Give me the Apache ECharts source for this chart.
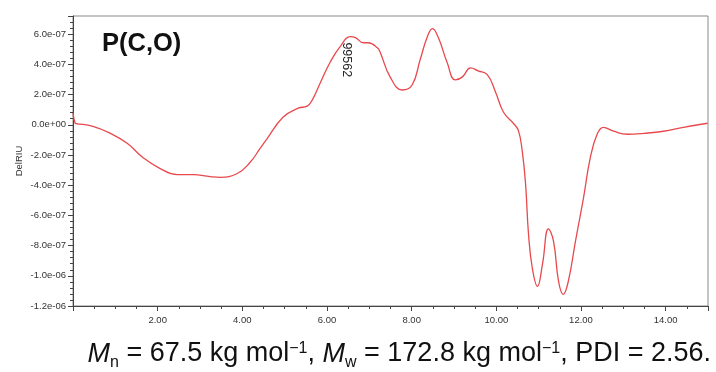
<!DOCTYPE html>
<html><head><meta charset="utf-8">
<script src="https://cdn.jsdelivr.net/npm/echarts@6/dist/echarts.min.js"></script>
<style>html,body{margin:0;padding:0;background:#fff}#c{width:716px;height:372px}</style>
</head><body><div id="c"></div>
<script>
// elution time (min)
const elutionTime = [0.0,0.05,0.07,0.47,0.87,1.28,1.65,2.06,2.46,2.84,3.24,3.48,3.88,4.18,4.42,4.59,4.96,5.32,5.53,5.65,5.84,6.08,6.31,6.55,6.67,6.86,6.97,7.19,7.26,7.49,7.78,8.01,8.2,8.37,8.49,8.63,8.84,9.03,9.2,9.39,9.57,9.79,9.98,10.17,10.4,10.52,10.61,10.69,10.76,10.85,10.97,11.09,11.23,11.35,11.47,11.58,11.7,11.87,12.06,12.22,12.39,12.53,12.77,13.1,13.48,13.95,14.42,14.99];
// DelRIU in units of 1e-7
const delRIU = [0.77,0.1,0.08,-0.1,-0.55,-1.23,-2.17,-2.9,-3.3,-3.3,-3.43,-3.48,-3.23,-2.5,-1.57,-0.9,0.5,1.1,1.23,1.63,2.77,4.17,5.17,5.83,5.77,5.43,5.43,5.1,4.77,3.17,2.3,2.63,4.3,5.83,6.37,5.77,4.1,2.97,3.17,3.77,3.57,3.3,2.17,0.83,0.1,-0.37,-1.7,-3.9,-7.23,-9.5,-10.7,-9.23,-6.9,-7.7,-10.37,-11.23,-10.37,-7.7,-4.83,-2.17,-0.57,-0.17,-0.43,-0.63,-0.57,-0.43,-0.17,0.1];
const peakLabel = ['99562'];
const peakPos = [6.45, 4.3];
const titleText = 'P(C,O)';
const yAxisName = 'DelRIU';

function sci(v){
  if (Math.abs(v) < 1e-9) return '0.0e+00';
  const val = v * 1e-7;
  let e = Math.floor(Math.log10(Math.abs(val)));
  let m = val / Math.pow(10, e);
  if (Math.abs(m) >= 9.95) { m /= 10; e += 1; }
  return m.toFixed(1) + 'e' + (e < 0 ? '-' : '+') + String(Math.abs(e)).padStart(2, '0');
}

const FONT = '"Liberation Sans", Arial, sans-serif';
const chart = echarts.init(document.getElementById('c'), null, {renderer:'canvas'});
chart.setOption({
  animation: false,
  backgroundColor: '#fff',
  grid: {left: 73, right: 8, top: 16, bottom: 66, show: true, borderColor: '#8a8a8a', borderWidth: 1},
  xAxis: {
    type: 'value', min: 0, max: 15, interval: 2,
    axisLine: {show: true, onZero: false, lineStyle: {color: '#444', width: 1}},
    axisTick: {show: true, length: 5, lineStyle: {color: '#444'}},
    minorTick: {show: true, splitNumber: 4, length: 3, lineStyle: {color: '#444'}},
    splitLine: {show: false},
    axisLabel: {showMaxLabel: false, color: '#333', fontSize: 9.5, fontFamily: FONT, margin: 9,
      formatter: v => v === 0 ? '' : v.toFixed(2)}
  },
  yAxis: {
    type: 'value', min: -12, max: 7.2, interval: 2,
    axisLine: {show: true, onZero: false, lineStyle: {color: '#444', width: 1}},
    axisTick: {show: true, length: 5, lineStyle: {color: '#444'}},
    minorTick: {show: true, splitNumber: 5, length: 3, lineStyle: {color: '#444'}},
    splitLine: {show: false},
    axisLabel: {showMaxLabel: false, color: '#333', fontSize: 9.5, fontFamily: FONT, margin: 7,
      formatter: sci}
  },
  series: [{
    type: 'line',
    data: elutionTime.map((x, i) => [x, delRIU[i]]),
    showSymbol: false, smooth: 0.45,
    lineStyle: {color: '#e8494d', width: 1.3},
    markPoint: {
      symbol: 'circle', symbolSize: 1, itemStyle: {color: 'rgba(0,0,0,0)'},
      label: {show: true, position: 'inside', rotate: -90, color: '#222', fontSize: 12.5, fontFamily: FONT,
        formatter: () => peakLabel[0]},
      data: [{coord: peakPos}]
    }
  }],
  graphic: [
    {type: 'text', x: 102, y: 44, style: {text: titleText, font: 'bold 25.5px ' + FONT, fill: '#111', textVerticalAlign: 'middle'}},
    {type: 'text', x: 19, y: 161, rotation: Math.PI / 2,
      style: {text: yAxisName, font: '9.5px ' + FONT, fill: '#333', textAlign: 'center', textVerticalAlign: 'middle'}},
    {type: 'text', x: 711, y: 337, style: {
      text: '{i|M}{sub|n}{n| = 67.5 kg mol}{sup|\u22121}{n|, }{i|M}{sub|w}{n| = 172.8 kg mol}{sup|\u22121}{n|, PDI = 2.56.}',
      textAlign: 'right', textVerticalAlign: 'top',
      rich: {
        n: {fontSize: 27, fontFamily: FONT, fill: '#111', lineHeight: 34},
        i: {fontSize: 27, fontFamily: FONT, fontStyle: 'italic', fill: '#111', lineHeight: 34},
        sub: {fontSize: 16, fontFamily: FONT, fill: '#111', lineHeight: 16, verticalAlign: 'bottom'},
        sup: {fontSize: 16, fontFamily: FONT, fill: '#111', lineHeight: 16, verticalAlign: 'top', padding: [4, 0, 0, 0]}
      }
    }}
  ]
});
</script></body></html>
